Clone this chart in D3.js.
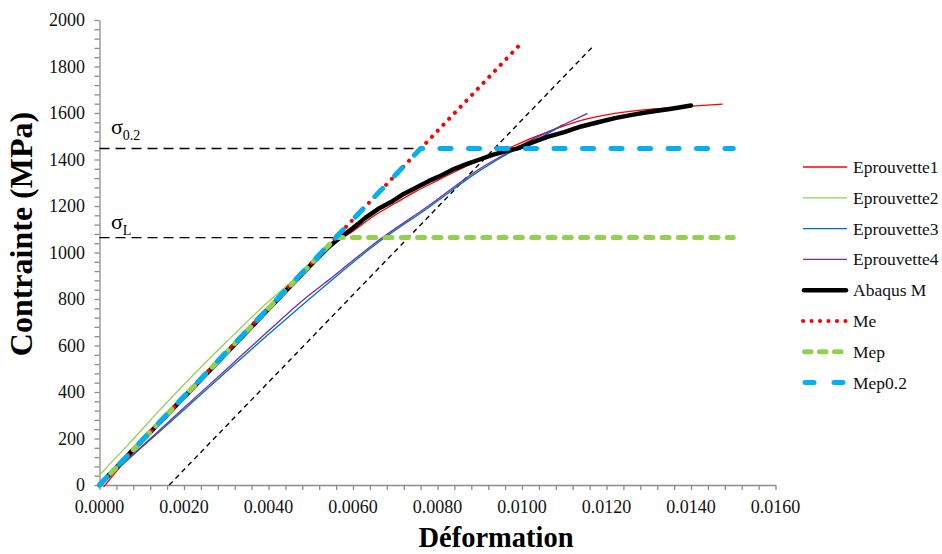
<!DOCTYPE html>
<html><head><meta charset="utf-8">
<script src="https://cdn.jsdelivr.net/npm/d3@7"></script>
<style>
body{margin:0;background:#fff}
text{font-family:"Liberation Serif","Times New Roman",serif}
</style>
</head><body>
<svg id="c" width="942" height="554"></svg>
<script>
// ---- data ----
const xTickValues = [0,0.002,0.004,0.006,0.008,0.010,0.012,0.014,0.016];
const xTickLabels = ["0.0000","0.0020","0.0040","0.0060","0.0080","0.0100","0.0120","0.0140","0.0160"];
const yTickValues = [0,200,400,600,800,1000,1200,1400,1600,1800,2000];
const yTickLabels = ["0","200","400","600","800","1000","1200","1400","1600","1800","2000"];
const seriesNames = ["Eprouvette1","Eprouvette2","Eprouvette3","Eprouvette4","Abaqus M","Me","Mep","Mep0.2"];

const eprouvette1 = [[0.0001,-8],[0.001,188],[0.002,380],[0.003,572],[0.004,760],[0.005,945],[0.0055,1030],[0.006,1092],[0.0065,1158],[0.007,1212],[0.0075,1264],[0.008,1310],[0.0085,1355],[0.009,1398],[0.0094,1430],[0.0098,1458],[0.0102,1490],[0.0106,1518],[0.0114,1568],[0.0122,1598],[0.0130,1616],[0.01375,1626],[0.01475,1638]];
const eprouvette2 = [[0,43],[0.0007,178],[0.00143,323],[0.002,432],[0.003,615],[0.00404,796],[0.0046,882]];
const eprouvette3 = [[0,0],[0.001,162],[0.002,324],[0.003,487],[0.004,648],[0.00494,796],[0.0055,882],[0.0065,1030],[0.0078,1195],[0.009,1352],[0.0098,1438],[0.0102,1470],[0.0106,1510],[0.01098,1550]];
const eprouvette4 = [[0,0],[0.001,166],[0.002,332],[0.003,497],[0.004,663],[0.00482,796],[0.0055,892],[0.0065,1038],[0.0078,1202],[0.009,1360],[0.0098,1443],[0.0102,1482],[0.01073,1528],[0.01155,1598]];
const abaqusM = [[0,0],[0.0005,95],[0.001,190],[0.0015,283],[0.002,378],[0.0025,472],[0.003,567],[0.0035,662],[0.004,757],[0.0045,852],[0.005,947],[0.0054,1020],[0.0057,1065],[0.006,1105],[0.0063,1150],[0.0066,1188],[0.0069,1217],[0.0072,1252],[0.0075,1280],[0.0078,1308],[0.0081,1332],[0.0084,1360],[0.0087,1381],[0.009,1400],[0.0093,1420],[0.0096,1435],[0.0099,1448],[0.0102,1470],[0.0106,1497],[0.011,1518],[0.0114,1542],[0.0118,1560],[0.0122,1578],[0.0126,1592],[0.013,1604],[0.0135,1617],[0.014,1632]];
const me = [[0,0],[0.00994,1892]];
const mep = [[0,0],[0.0056,1064],[0.015,1064]];
const mep02 = [[0,0],[0.0076,1447],[0.015,1447]];
const offsetLine = [[0.00165,0],[0.0117,1890]];
const sigma02Line = [[0,1447],[0.0076,1447]];
const sigmaLLine = [[0,1064],[0.0056,1064]];

// ---- chart ----
const FONT = "Liberation Serif, Times New Roman, serif";
const svg = d3.select("#c");
const x = d3.scaleLinear().domain([0,0.016]).range([99.5,775.5]);
const y = d3.scaleLinear().domain([0,2000]).range([485,20]);
const axisColor = "#8c8c8c";

// axes
const xAxis = d3.axisBottom(x)
  .tickValues(d3.range(0,41).map(i=>i*0.0004))
  .tickSize(5).tickSizeOuter(0).tickFormat("");
const gx = svg.append("g").attr("transform","translate(0,485)").call(xAxis);
gx.selectAll("path,line").attr("stroke",axisColor).attr("stroke-width",1.3);
const yAxis = d3.axisLeft(y)
  .tickValues(d3.range(0,51).map(i=>i*40))
  .tickSize(5).tickSizeOuter(0).tickFormat("");
const gy = svg.append("g").attr("transform","translate(99.5,0)").call(yAxis);
gy.selectAll("path,line").attr("stroke",axisColor).attr("stroke-width",1.3);

svg.append("g").selectAll("text").data(xTickValues).join("text")
  .attr("x",d=>x(d)).attr("y",513).attr("text-anchor","middle")
  .attr("font-family",FONT).attr("font-size",18).attr("fill","#111")
  .text((d,i)=>xTickLabels[i]);
svg.append("g").selectAll("text").data(yTickValues).join("text")
  .attr("x",85).attr("y",d=>y(d)+6).attr("text-anchor","end")
  .attr("font-family",FONT).attr("font-size",18).attr("fill","#111")
  .text((d,i)=>yTickLabels[i]);

// titles
svg.append("text").attr("x",496).attr("y",547).attr("text-anchor","middle")
  .attr("font-family",FONT).attr("font-size",28.5).attr("font-weight","bold").text("Déformation");
svg.append("text").attr("transform","translate(32,234) rotate(-90)").attr("text-anchor","middle")
  .attr("font-family",FONT).attr("font-size",32).attr("font-weight","bold").text("Contrainte (MPa)");

const line = d3.line().x(d=>x(d[0])).y(d=>y(d[1]));
const smooth = d3.line().x(d=>x(d[0])).y(d=>y(d[1])).curve(d3.curveMonotoneX);

// reference dashed lines
[sigma02Line,sigmaLLine].forEach(dd=>{
  svg.append("path").attr("d",line(dd)).attr("fill","none").attr("stroke","#000")
    .attr("stroke-width",1.4).attr("stroke-dasharray","10 6");
});
svg.append("path").attr("d",line(offsetLine)).attr("fill","none").attr("stroke","#000")
  .attr("stroke-width",1.4).attr("stroke-dasharray","5 4");

// sigma labels
const s02 = svg.append("text").attr("x",111).attr("y",134).attr("font-family",FONT).attr("font-size",22);
s02.append("tspan").text("σ");
s02.append("tspan").attr("font-size",14).attr("dy",6).text("0.2");
const sL = svg.append("text").attr("x",111).attr("y",229).attr("font-family",FONT).attr("font-size",22);
sL.append("tspan").text("σ");
sL.append("tspan").attr("font-size",14).attr("dy",6).text("L");

// series styles
const styles = [
  {data:eprouvette1, color:"#ff0000", w:1.3, dash:null, cap:"butt", curve:smooth},
  {data:eprouvette2, color:"#92d050", w:1.3, dash:null, cap:"butt", curve:smooth},
  {data:eprouvette3, color:"#0070c0", w:1.3, dash:null, cap:"butt", curve:smooth},
  {data:eprouvette4, color:"#7030a0", w:1.3, dash:null, cap:"butt", curve:smooth},
  {data:abaqusM, color:"#000000", w:4.5, dash:null, cap:"round", curve:line},
  {data:me, color:"#ff0000", w:4, dash:"0.1 8.2", cap:"round", curve:line},
  {data:mep, color:"#92d050", w:5, dash:"7 9.3", cap:"round", curve:line},
  {data:mep02, color:"#00b0f0", w:5, dash:"11 17.5", cap:"round", curve:line}
];
styles.forEach(s=>{
  svg.append("path").attr("d",s.curve(s.data)).attr("fill","none")
    .attr("stroke",s.color).attr("stroke-width",s.w)
    .attr("stroke-dasharray",s.dash).attr("stroke-linecap",s.cap)
    .attr("stroke-linejoin","round");
});

// legend
const legendY0 = 167, legendStep = 30.8;
const legendGeom = [
  {x1:803,x2:847,dash:null},{x1:803,x2:847,dash:null},{x1:803,x2:847,dash:null},{x1:803,x2:847,dash:null},
  {x1:804,x2:846,dash:null},
  {x1:803,x2:845.5,dash:"0.1 8.38"},
  {x1:804.5,x2:841.5,dash:"6.5 8.5"},
  {x1:805,x2:843,dash:"9 20"}
];
styles.forEach((s,i)=>{
  const ly = legendY0 + i*legendStep, g = legendGeom[i];
  svg.append("line").attr("x1",g.x1).attr("x2",g.x2)
    .attr("y1",ly).attr("y2",ly).attr("stroke",s.color)
    .attr("stroke-width",s.w).attr("stroke-dasharray",g.dash)
    .attr("stroke-linecap",s.cap);
  svg.append("text").attr("x",853).attr("y",ly+6).attr("font-size",17.5)
    .attr("font-family",FONT).attr("fill","#111").text(seriesNames[i]);
});
</script>
</body></html>
